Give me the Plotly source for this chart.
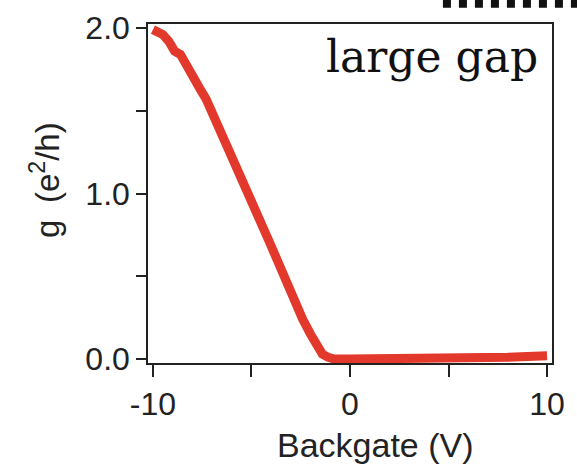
import plotly.graph_objects as go

# Data
backgate_v = [-10.0, -9.7, -9.5, -9.2, -8.9, -8.6, -8.3, -8.0, -7.6, -7.3, -7.0, -6.6,
              -6.3, -6.0, -5.6, -5.3, -5.0, -4.7, -4.4, -4.1, -3.7, -3.4, -3.0, -2.7,
              -2.4, -2.0, -1.7, -1.4, -1.1, -0.8, 0.0, 2.0, 4.0, 6.0, 7.0, 8.0, 9.0, 10.0]
g_e2h = [1.99, 1.98, 1.96, 1.92, 1.86, 1.84, 1.77, 1.70, 1.63, 1.57, 1.49, 1.40,
         1.33, 1.24, 1.13, 1.06, 0.97, 0.88, 0.79, 0.71, 0.60, 0.51, 0.42, 0.33,
         0.24, 0.15, 0.09, 0.03, 0.01, 0.0, 0.0, 0.0, 0.0, 0.0, 0.005, 0.01, 0.015, 0.02]

x_tick_vals = [-10, 0, 10]
x_tick_text = ["-10", "0", "10"]
x_minor_vals = [-5, 5]
y_tick_vals = [0.0, 1.0, 2.0]
y_tick_text = ["0.0", "1.0", "2.0"]
y_minor_vals = [0.5, 1.5]

fig = go.Figure()
fig.add_trace(go.Scatter(
    x=backgate_v, y=g_e2h, mode="lines",
    line=dict(color="#e2392c", width=9, shape="linear"),
    showlegend=False,
))

sans = "Liberation Sans, Arial, sans-serif"
axis_font = dict(family=sans, size=32, color="#222")

fig.update_layout(
    width=577, height=467,
    margin=dict(l=148, r=25, t=24, b=104),
    paper_bgcolor="white", plot_bgcolor="white",
    xaxis=dict(
        range=[-10.25, 10.25], tickvals=x_tick_vals, ticktext=x_tick_text,
        ticks="outside", ticklen=12, tickwidth=1.5, tickcolor="#222",
        minor=dict(tickvals=x_minor_vals, ticks="outside", ticklen=12, tickwidth=1.5,
                   tickcolor="#222", showgrid=False),
        showline=True, linecolor="#222", linewidth=1.5, mirror=True,
        showgrid=False, zeroline=False, tickfont=axis_font, automargin=False,
    ),
    yaxis=dict(
        range=[-0.024, 2.024], tickvals=y_tick_vals, ticktext=y_tick_text,
        ticks="outside", ticklen=10, tickwidth=1.5, tickcolor="#222",
        minor=dict(tickvals=y_minor_vals, ticks="outside", ticklen=10, tickwidth=1.5,
                   tickcolor="#222", showgrid=False),
        showline=True, linecolor="#222", linewidth=1.5, mirror=True,
        showgrid=False, zeroline=False, tickfont=dict(family=sans, size=32, color="#222"),
        automargin=False,
    ),
    annotations=[
        dict(text="Backgate (V)", x=1.3, xref="x", y=-0.242, yref="paper",
             showarrow=False, font=dict(family=sans, size=34, color="#222"),
             xanchor="center", yanchor="middle"),
        dict(text="g\u2002(e<sup>2</sup>/h)", x=-0.255, xref="paper", y=0.54, yref="paper",
             showarrow=False, textangle=-90, xanchor="center", yanchor="middle",
             font=dict(family=sans, size=33, color="#222")),
        dict(text="large gap", x=0.97, xref="paper", y=0.985, yref="paper",
             showarrow=False, xanchor="right", yanchor="top",
             font=dict(family="DejaVu Serif, serif", size=44, color="#111")),
    ],
    shapes=[
        dict(type="line", xref="paper", yref="paper", x0=0.73, x1=1.07, y0=1.06, y1=1.06,
             line=dict(color="#111", width=8, dash="dot")),
    ],
)

fig.write_html("out.html", config={"displayModeBar": False},
               post_script="document.body.style.margin='0';")
